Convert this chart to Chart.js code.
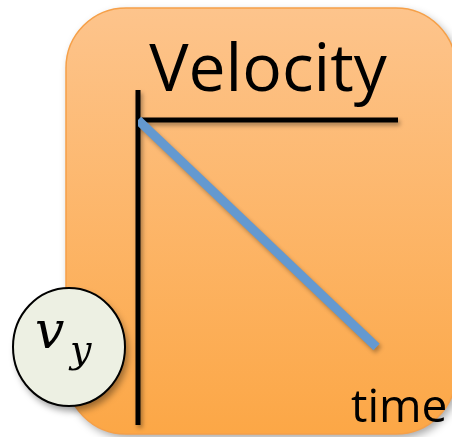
<!DOCTYPE html>
<html>
<head>
<meta charset="utf-8">
<script src="https://cdn.jsdelivr.net/npm/chart.js@4/dist/chart.umd.min.js"></script>
<style>
  html, body { margin: 0; padding: 0; background: #ffffff; }
  canvas { display: block; }
</style>
</head>
<body>
<canvas id="velocityChart" width="452" height="437"></canvas>
<script>
// data: velocity falls linearly with time
const times = [0, 1];
const vy = [0, -1];
const xRange = [0, 1.09];
const yRange = [-1.344, 0.132];
const titleText = "Velocity";
const xLabel = "time";

// background card, axes, badge and label
const sketchPlugin = {
    id: "sketch",
    beforeDraw(chart) {
        const ctx = chart.ctx;
        ctx.save();
        ctx.shadowColor = "rgba(0,0,0,0.35)";
        ctx.shadowBlur = 8;
        ctx.shadowOffsetX = 3;
        ctx.shadowOffsetY = 4;
        const grad = ctx.createLinearGradient(0, 8, 0, 434);
        grad.addColorStop(0, "#fdc48c");
        grad.addColorStop(1, "#fca746");
        ctx.fillStyle = grad;
        ctx.beginPath();
        ctx.roundRect(66, 8, 390, 426, 60);
        ctx.fill();
        ctx.shadowColor = "transparent";
        ctx.strokeStyle = "#f6a048";
        ctx.lineWidth = 1.5;
        ctx.stroke();
        ctx.restore();
    },
    beforeDatasetsDraw(chart) {
        const ctx = chart.ctx;
        const x = chart.scales.x;
        const y = chart.scales.y;
        const x0 = x.getPixelForValue(0);
        const y0 = y.getPixelForValue(0);
        const area = chart.chartArea;
        ctx.save();
        ctx.shadowColor = "rgba(0,0,0,0.35)";
        ctx.shadowBlur = 4;
        ctx.shadowOffsetX = 2;
        ctx.shadowOffsetY = 3;
        ctx.strokeStyle = "#000000";
        ctx.lineWidth = 5;
        ctx.beginPath();
        ctx.moveTo(x0, area.top);
        ctx.lineTo(x0, area.bottom);
        ctx.moveTo(x0 + 4, y0);
        ctx.lineTo(area.right, y0);
        ctx.stroke();
        ctx.restore();

        ctx.save();
        ctx.shadowColor = "rgba(0,0,0,0.3)";
        ctx.shadowBlur = 4;
        ctx.shadowOffsetX = 2;
        ctx.shadowOffsetY = 3;
    },
    afterDatasetsDraw(chart) {
        chart.ctx.restore();
    },
    afterDraw(chart) {
        const ctx = chart.ctx;
        ctx.save();
        ctx.fillStyle = "#000000";
        ctx.font = "46px 'Open Sans'";
        ctx.textBaseline = "alphabetic";
        ctx.fillText(xLabel, 351, 422);

        // v_y badge
        ctx.shadowColor = "rgba(0,0,0,0.4)";
        ctx.shadowBlur = 7;
        ctx.shadowOffsetX = 3;
        ctx.shadowOffsetY = 5;
        ctx.beginPath();
        ctx.ellipse(69, 347, 56, 59, 0, 0, Math.PI * 2);
        ctx.fillStyle = "#edf0e3";
        ctx.fill();
        ctx.shadowColor = "transparent";
        ctx.lineWidth = 2;
        ctx.strokeStyle = "#000000";
        ctx.stroke();
        ctx.fillStyle = "#000000";
        ctx.font = "italic 52px 'DejaVu Serif'";
        ctx.fillText("v", 35, 348);
        ctx.font = "italic 38px 'DejaVu Serif'";
        ctx.fillText("y", 70, 362);
        ctx.restore();
    }
};

new Chart(document.getElementById("velocityChart").getContext("2d"), {
    type: "line",
    data: {
        datasets: [{
            data: times.map((t, i) => ({ x: t, y: vy[i] })),
            borderColor: "#6499d0",
            borderWidth: 9,
            borderCapStyle: "butt",
            pointRadius: 0,
            tension: 0,
            fill: false
        }]
    },
    options: {
        responsive: false,
        animation: false,
        layout: { padding: { left: 138, right: 54, top: 45, bottom: 12 } },
        scales: {
            x: { type: "linear", display: false, min: xRange[0], max: xRange[1] },
            y: { type: "linear", display: false, min: yRange[0], max: yRange[1] }
        },
        plugins: {
            legend: { display: false },
            tooltip: { enabled: false },
            title: {
                display: true,
                text: titleText,
                color: "#000000",
                font: { family: "'Open Sans'", size: 66, weight: "normal", lineHeight: 0.5 },
                padding: { top: 10.3, bottom: 1.7 }
            }
        }
    },
    plugins: [sketchPlugin]
});
</script>
</body>
</html>
